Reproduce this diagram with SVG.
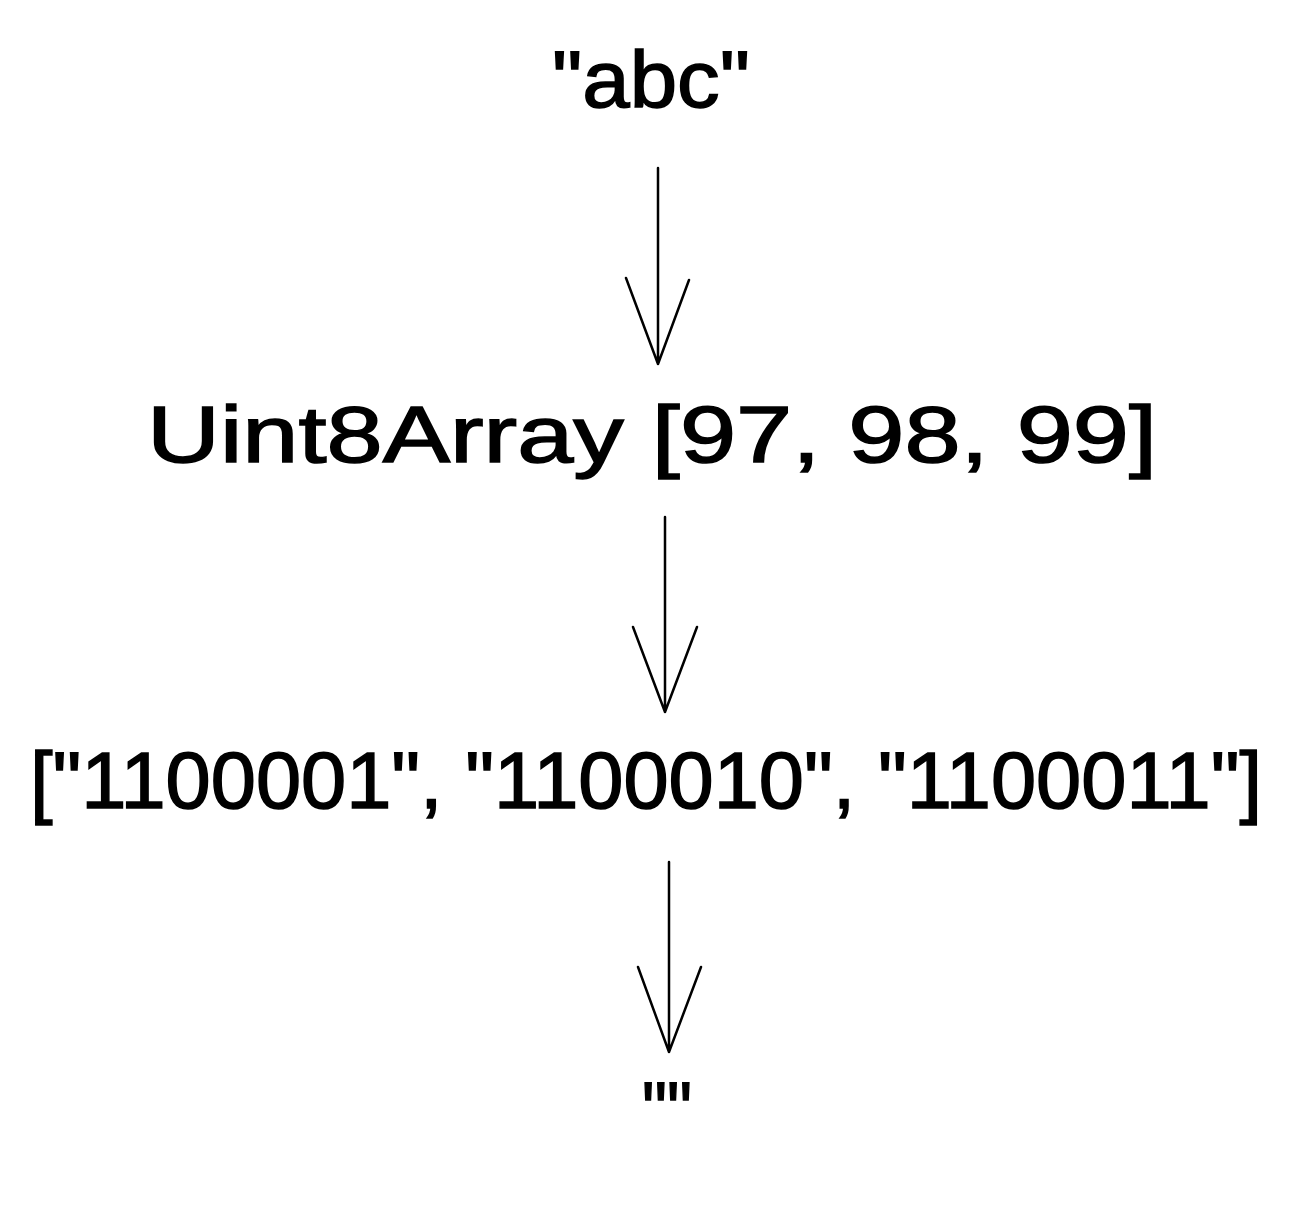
<svg xmlns="http://www.w3.org/2000/svg" width="1302" height="1217" viewBox="0 0 1302 1217">
<style>
.t{font-family:"Liberation Sans",Arial,sans-serif;font-size:80px;fill:#000;text-anchor:middle;stroke:#000;stroke-width:1.5}
.c{stroke:#000;stroke-width:2.5;fill:none;stroke-linecap:round;stroke-linejoin:round}
</style>
<rect width="1302" height="1217" fill="#fff"/>
<g id="node-abc"><text class="t" x="651" y="107" textLength="198" lengthAdjust="spacingAndGlyphs">"abc"</text></g>
<g id="node-uint8"><text class="t" x="652" y="462" textLength="1010" lengthAdjust="spacingAndGlyphs">Uint8Array [97, 98, 99]</text></g>
<g id="node-binary"><text class="t" x="646" y="808" textLength="1232" lengthAdjust="spacingAndGlyphs">["1100001", "1100010", "1100011"]</text></g>
<g id="node-empty"><text class="t" x="667" y="1138" textLength="50" lengthAdjust="spacingAndGlyphs">""</text></g>
<g id="connectors">
<path class="c" d="M658 168 L658 364 M626 278 L658 364 L689 280"/>
<path class="c" d="M665 517 L665 712 M633 627 L665 712 L697 627"/>
<path class="c" d="M669 862 L669 1052 M638 967 L669 1052 L701 967"/>
</g>
</svg>
